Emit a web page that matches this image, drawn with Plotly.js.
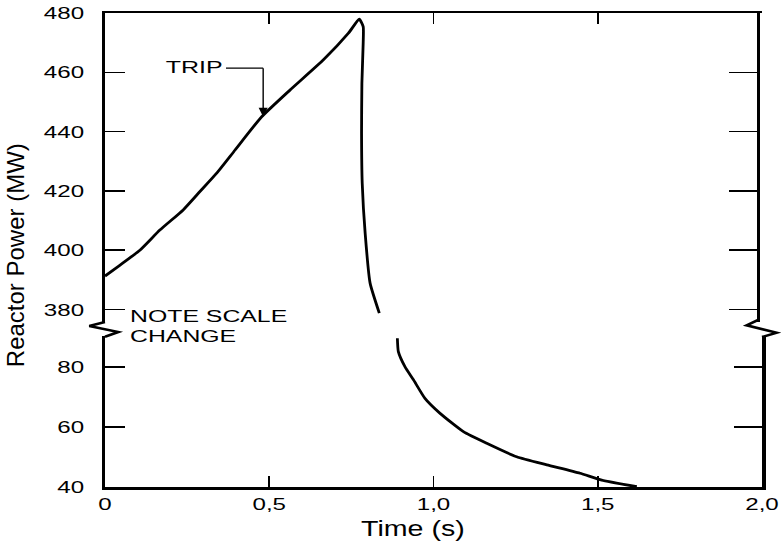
<!DOCTYPE html>
<html>
<head>
<meta charset="utf-8">
<script src="https://cdn.plot.ly/plotly-3.0.1.min.js"></script>
<style>
  html, body { margin: 0; padding: 0; background: #fff; }
  #chart { width: 781px; height: 544px; }
</style>
</head>
<body>
<div id="chart"></div>
<script>
// Reactor power through a trip: upper band 380-480 MW, lower band 40-80 MW (broken scale)
const timeHigh  = [0, 0.046, 0.107, 0.167, 0.238, 0.289, 0.340, 0.396, 0.477, 0.563, 0.665, 0.741, 0.774, 0.786, 0.786, 0.782, 0.781, 0.783, 0.792, 0.807, 0.835];
const powerHigh = [391.3, 395.0, 400.1, 406.8, 413.6, 419.8, 426.0, 433.8, 445.0, 454.0, 464.2, 473.2, 477.9, 475.4, 470.0, 456.3, 439.4, 422.6, 405.7, 388.9, 378.8];
const timeLow   = [0.890, 0.893, 0.913, 0.939, 0.974, 1.020, 1.091, 1.162, 1.253, 1.345, 1.446, 1.512, 1.619];
const powerLow  = [89.7, 85.2, 80.2, 75.8, 69.6, 64.6, 58.5, 54.6, 50.1, 47.4, 44.6, 42.3, 40.1];

const timeTicks    = [0, 0.5, 1, 1.5, 2];
const timeTickText = ['0', '0,5', '1,0', '1,5', '2,0'];
const highTicks    = [380, 400, 420, 440, 460, 480];
const lowTicks     = [40, 60, 80];

const tripTime  = 0.4815;
const tripPower = 445;

const FONT = 'Liberation Sans, Arial, Helvetica, sans-serif';
const tickFont = { family: FONT, size: 17, color: '#000' };

const baseAxis = {
  showgrid: false, zeroline: false, showline: true,
  linecolor: '#000', tickcolor: '#000', ticks: 'inside',
  fixedrange: true
};

const curve = { color: '#000', width: 2.8, shape: 'spline', smoothing: 0.5 };

const traces = [
  { x: timeHigh, y: powerHigh, xaxis: 'x', yaxis: 'y2', mode: 'lines', line: curve, hoverinfo: 'skip' },
  { x: timeLow,  y: powerLow,  xaxis: 'x', yaxis: 'y',  mode: 'lines', line: curve, hoverinfo: 'skip' },
  // empty traces so the frame axes (top and right) get their own subplots
  { x: [], y: [], xaxis: 'x2', yaxis: 'y2', mode: 'lines', hoverinfo: 'skip' },
  { x: [], y: [], xaxis: 'x',  yaxis: 'y3', mode: 'lines', hoverinfo: 'skip' },
  { x: [], y: [], xaxis: 'x',  yaxis: 'y4', mode: 'lines', hoverinfo: 'skip' }
];

const layout = {
  width: 781, height: 544,
  margin: { l: 105, r: 19, t: 13, b: 57 },
  paper_bgcolor: '#fff', plot_bgcolor: 'rgba(0,0,0,0)',
  showlegend: false,
  xaxis: Object.assign({}, baseAxis, {
    domain: [0, 1], range: [0, 2], anchor: 'y',
    tickvals: timeTicks, ticktext: timeTickText,
    ticklen: 11, tickwidth: 1.7, linewidth: 2.8,
    tickfont: tickFont, ticklabelstandoff: 0
  }),
  xaxis2: Object.assign({}, baseAxis, {
    range: [0, 2], overlaying: 'x', anchor: 'y2', side: 'top',
    tickvals: timeTicks, ticklen: 11, tickwidth: 1.7, linewidth: 2.2,
    showticklabels: false
  }),
  yaxis: Object.assign({}, baseAxis, {
    domain: [0, 0.318], range: [40, 90.36], anchor: 'x',
    tickvals: lowTicks, ticklen: 20, tickwidth: 1.6, linewidth: 3.5,
    tickfont: tickFont, ticklabelstandoff: 14
  }),
  yaxis2: Object.assign({}, baseAxis, {
    domain: [0.3481, 1], range: [375.8, 480], anchor: 'x',
    tickvals: highTicks, ticklen: 20, tickwidth: 1.6, linewidth: 3.5,
    tickfont: tickFont, ticklabelstandoff: 14
  }),
  yaxis3: Object.assign({}, baseAxis, {
    overlaying: 'y', side: 'right', anchor: 'x', range: [40, 90.36],
    tickvals: lowTicks, ticklen: 28, tickwidth: 1.6, linewidth: 3.5,
    showticklabels: false
  }),
  yaxis4: Object.assign({}, baseAxis, {
    overlaying: 'y2', side: 'right', anchor: 'free', position: 0.9939, range: [375.8, 480],
    tickvals: highTicks, ticklen: 28, tickwidth: 1.6, linewidth: 3.5,
    showticklabels: false
  }),
  shapes: [
    // scale-break zigzags on both vertical axes
    { type: 'path', xref: 'paper', yref: 'paper',
      path: 'M0,0.3481 L-0.024,0.3397 L0.0202,0.327 L0,0.3171',
      line: { color: '#000', width: 2.6 } },
    { type: 'path', xref: 'paper', yref: 'paper',
      path: 'M0.9939,0.3523 L0.9767,0.3411 L1.0224,0.3255 L1,0.3165',
      line: { color: '#000', width: 2.6 } },
    // leader from the TRIP label
    { type: 'line', xref: 'x', yref: 'y2', x0: 0.3683, x1: tripTime, y0: 461.4, y1: 461.4,
      line: { color: '#000', width: 1.4 } }
  ],
  annotations: [
    { xref: 'x', yref: 'y2', x: 0.3653, y: 461.6, xanchor: 'right', yanchor: 'middle',
      text: 'TRIP', showarrow: false, font: { family: FONT, size: 17, color: '#000' } },
    { xref: 'x', yref: 'y2', x: tripTime, y: tripPower, text: '', showarrow: true,
      ax: 0, ay: -50, arrowhead: 2, arrowsize: 1.3, arrowwidth: 1.4, arrowcolor: '#000' },
    { xref: 'paper', yref: 'paper', x: 0.035, y: 0.3593, xanchor: 'left', yanchor: 'middle',
      text: 'NOTE SCALE', showarrow: false, font: { family: FONT, size: 17, color: '#000' } },
    { xref: 'paper', yref: 'paper', x: 0.035, y: 0.3171, xanchor: 'left', yanchor: 'middle',
      text: 'CHANGE', showarrow: false, font: { family: FONT, size: 17, color: '#000' } },
    { xref: 'paper', yref: 'paper', x: 0.469, y: -0.0886, xanchor: 'center', yanchor: 'middle',
      text: 'Time (s)', showarrow: false, font: { family: FONT, size: 22, color: '#000' } },
    { xref: 'paper', yref: 'paper', x: -0.137, y: 0.489, xanchor: 'center', yanchor: 'middle',
      text: 'Reactor Power (MW)', textangle: -90, showarrow: false,
      font: { family: FONT, size: 24, color: '#000' } }
  ]
};

// widen lettering horizontally about a chosen anchor point
function widen(nodes, factor, anchor) {
  nodes.forEach(function (t) {
    const b = t.getBBox();
    const ax = anchor === 'start' ? b.x : anchor === 'end' ? b.x + b.width : b.x + b.width / 2;
    const prev = t.getAttribute('transform') || '';
    t.setAttribute('transform', prev + ' translate(' + ax + ',0) scale(' + factor + ',1) translate(' + (-ax) + ',0)');
  });
}

Plotly.newPlot('chart', traces, layout, { staticPlot: true, displayModeBar: false }).then(function (gd) {
  widen(gd.querySelectorAll('.xtick text'), 1.42, 'middle');
  widen(gd.querySelectorAll('.ytick text, .y2tick text'), 1.42, 'end');
  const ann = function (i) { return gd.querySelectorAll('.annotation[data-index="' + i + '"] text.annotation-text'); };
  widen(ann(0), 1.47, 'end');
  widen(ann(2), 1.46, 'start');
  widen(ann(3), 1.46, 'start');
  widen(ann(4), 1.3, 'middle');
});
</script>
</body>
</html>
